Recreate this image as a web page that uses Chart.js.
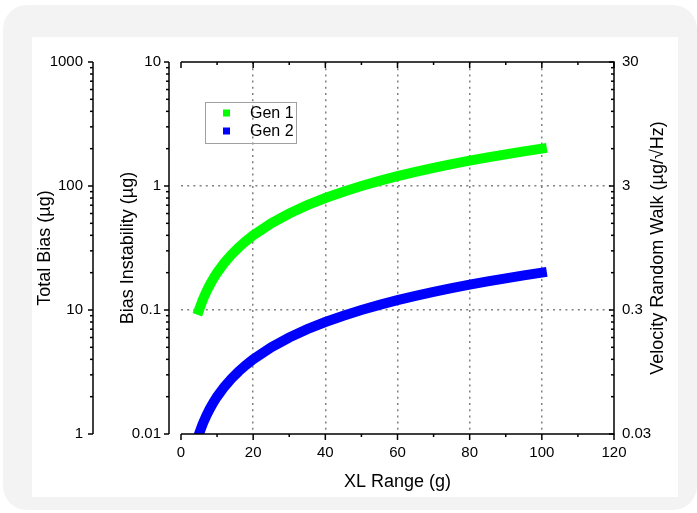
<!DOCTYPE html>
<html>
<head>
<meta charset="utf-8">
<script src="https://cdn.jsdelivr.net/npm/chart.js@4"></script>
<style>
  html, body { margin: 0; padding: 0; background: #fff; }
  body { width: 697px; height: 513px; position: relative; overflow: hidden; }
  .frame { position: absolute; left: 3px; top: 5px; width: 694px; height: 505px; background: #f3f3f3; border-radius: 24px; }
  .card { position: absolute; left: 32px; top: 37px; width: 646px; height: 460px; background: #fff; }
  #wrap { position: absolute; left: 0; top: 0; width: 697px; height: 513px; }
</style>
</head>
<body>
<div class="frame"></div>
<div class="card"></div>
<div id="wrap"><canvas id="chart" width="697" height="513"></canvas></div>
<script>
// 데이터
const xValues = [5, 5.5, 6, 6.5, 7, 8, 9, 10, 12, 14, 16, 18, 20, 25, 30, 35, 40, 45, 50, 55, 60, 65, 70, 75, 80, 85, 90, 95, 100];
const gen1 = [0.1, 0.11, 0.12, 0.13, 0.14, 0.16, 0.18, 0.2, 0.24, 0.28, 0.32, 0.36, 0.4, 0.5, 0.6, 0.7, 0.8, 0.9, 1.0, 1.1, 1.2, 1.3, 1.4, 1.5, 1.6, 1.7, 1.8, 1.9, 2.0];
const gen2 = [0.01, 0.011, 0.012, 0.013, 0.014, 0.016, 0.018, 0.02, 0.024, 0.028, 0.032, 0.036, 0.04, 0.05, 0.06, 0.07, 0.08, 0.09, 0.1, 0.11, 0.12, 0.13, 0.14, 0.15, 0.16, 0.17, 0.18, 0.19, 0.2];
const seriesLabels = ['Gen 1', 'Gen 2'];
const seriesColors = ['#00ff00', '#0000ff'];

const xTicks = ['0', '20', '40', '60', '80', '100', '120'];
const biasTicks = ['0.01', '0.1', '1', '10'];
const totalTicks = ['1', '10', '100', '1000'];
const vrwTicks = ['0.03', '0.3', '3', '30'];
const biasGrid = ['0.1', '1'];
const xGrid = ['20', '40', '60', '80', '100'];

const xTitle = 'XL Range (g)';
const biasTitle = 'Bias Instability (µg)';
const totalTitle = 'Total Bias (µg)';
const vrwTitle = 'Velocity Random Walk (µg/√Hz)';

const FONT = '"Liberation Sans", Arial, sans-serif';
const GRID_COLOR = '#808080';

function sameLog(a, b) {
    return Math.abs(Math.log10(a) - Math.log10(b)) < 1e-6;
}

function decadeLabel(labels) {
    return function (value) {
        const hit = labels.find(l => sameLog(parseFloat(l), value));
        return hit || '';
    };
}

// 축선, 눈금, 오른쪽 제목, 범례
const axesPlugin = {
    id: 'axesPlugin',
    afterDraw(chart) {
        const { ctx, chartArea: a, scales } = chart;
        ctx.save();
        ctx.strokeStyle = '#000';
        ctx.lineWidth = 1.5;
        const line = (x1, y1, x2, y2) => {
            ctx.beginPath();
            ctx.moveTo(x1, y1);
            ctx.lineTo(x2, y2);
            ctx.stroke();
        };

        ctx.beginPath();
        ctx.moveTo(a.left, a.top);
        ctx.lineTo(a.right, a.top);
        ctx.lineTo(a.right, a.bottom);
        ctx.lineTo(a.left, a.bottom);
        ctx.stroke();

        const xs = scales.x;
        for (let v = xs.min; v <= xs.max; v += 10) {
            const px = xs.getPixelForValue(v);
            const len = v % 20 === 0 ? 6 : 3;
            line(px, a.bottom, px, a.bottom + len);
            line(px, a.top, px, a.top + len);
        }

        const logAxis = (scale, x, drawLine) => {
            if (drawLine) line(x, a.top, x, a.bottom);
            let base = scale.min;
            while (base <= scale.max * 1.0001) {
                for (let k = 1; k < 10; k++) {
                    const v = base * k;
                    if (v > scale.max * 1.0001) break;
                    const py = scale.getPixelForValue(v);
                    line(x, py, x - (k === 1 ? 5 : 3), py);
                }
                base *= 10;
            }
        };
        logAxis(scales.yTotal, scales.yTotal.right - 17, true);
        logAxis(scales.y, scales.y.right - 12, true);
        logAxis(scales.yVrw, a.right, false);

        // 오른쪽 축 제목
        ctx.fillStyle = '#000';
        ctx.font = '18px ' + FONT;
        ctx.textAlign = 'center';
        ctx.textBaseline = 'middle';
        ctx.save();
        ctx.translate(scales.yVrw.left + 44, (a.top + a.bottom) / 2);
        ctx.rotate(-Math.PI / 2);
        ctx.fillText(vrwTitle, 0, 0);
        ctx.restore();

        // 범례
        const lx = a.left + 24, ly = a.top + 40;
        ctx.strokeStyle = '#a0a0a0';
        ctx.lineWidth = 1;
        ctx.strokeRect(lx + 0.5, ly + 0.5, 91, 41);
        ctx.font = '16px ' + FONT;
        ctx.textAlign = 'left';
        chart.data.datasets.forEach((ds, i) => {
            const cy = ly + 11 + i * 18;
            ctx.fillStyle = ds.borderColor;
            ctx.fillRect(lx + 18, cy - 3.5, 7, 7);
            ctx.fillStyle = '#000';
            ctx.fillText(ds.label, lx + 45, cy + 1);
        });
        ctx.restore();
    }
};

const datasets = [gen1, gen2].map((vals, i) => ({
    label: seriesLabels[i],
    data: xValues.map((x, j) => ({ x: x, y: vals[j] })),
    borderColor: seriesColors[i],
    backgroundColor: seriesColors[i],
    borderWidth: 10,
    borderCapStyle: 'square',
    pointRadius: 0,
    tension: 0,
    clip: 0,
    yAxisID: 'y'
}));

const tickFont = { family: FONT, size: 15 };
const titleFont = { family: FONT, size: 18 };

new Chart(document.getElementById('chart'), {
    type: 'line',
    data: { datasets: datasets },
    plugins: [axesPlugin],
    options: {
        responsive: false,
        animation: false,
        layout: { padding: { top: 62, left: 0, right: 0, bottom: 0 } },
        plugins: { legend: { display: false }, tooltip: { enabled: false } },
        scales: {
            x: {
                type: 'linear',
                min: parseFloat(xTicks[0]),
                max: parseFloat(xTicks[xTicks.length - 1]),
                afterFit: s => { s.height = 79; },
                ticks: {
                    stepSize: 20,
                    padding: 10,
                    color: '#000',
                    font: tickFont,
                    callback: v => xTicks.includes(String(v)) ? String(v) : ''
                },
                grid: {
                    drawTicks: false,
                    lineWidth: 1.5,
                    color: c => xGrid.includes(String(c.tick.value)) ? GRID_COLOR : 'rgba(0,0,0,0)'
                },
                border: { display: false, dash: [2, 4.2] },
                title: { display: true, text: xTitle, color: '#000', font: titleFont, padding: { top: 0, bottom: 20 } }
            },
            y: {
                type: 'logarithmic',
                position: 'left',
                weight: 1,
                min: parseFloat(biasTicks[0]),
                max: parseFloat(biasTicks[biasTicks.length - 1]),
                afterFit: s => { s.width = 71; },
                ticks: { autoSkip: false, padding: 20, color: '#000', font: tickFont, callback: decadeLabel(biasTicks) },
                grid: {
                    drawTicks: false,
                    lineWidth: 1.5,
                    color: c => biasGrid.some(g => sameLog(parseFloat(g), c.tick.value)) ? GRID_COLOR : 'rgba(0,0,0,0)'
                },
                border: { display: false, dash: [2, 4.2] },
                title: { display: true, text: biasTitle, color: '#000', font: titleFont, padding: { top: 7, bottom: 0 } }
            },
            yTotal: {
                type: 'logarithmic',
                position: 'left',
                weight: 2,
                min: parseFloat(totalTicks[0]),
                max: parseFloat(totalTicks[totalTicks.length - 1]),
                afterFit: s => { s.width = 110; },
                ticks: { autoSkip: false, padding: 27, color: '#000', font: tickFont, callback: decadeLabel(totalTicks) },
                grid: { display: false, drawTicks: false },
                border: { display: false },
                title: { display: true, text: totalTitle, color: '#000', font: titleFont, padding: { top: 34, bottom: 0 } }
            },
            yVrw: {
                type: 'logarithmic',
                position: 'right',
                min: parseFloat(vrwTicks[0]),
                max: parseFloat(vrwTicks[vrwTicks.length - 1]),
                afterFit: s => { s.width = 83; },
                ticks: { autoSkip: false, padding: 8, color: '#000', font: tickFont, callback: decadeLabel(vrwTicks) },
                grid: { display: false, drawTicks: false },
                border: { display: false }
            }
        }
    }
});
</script>
</body>
</html>
